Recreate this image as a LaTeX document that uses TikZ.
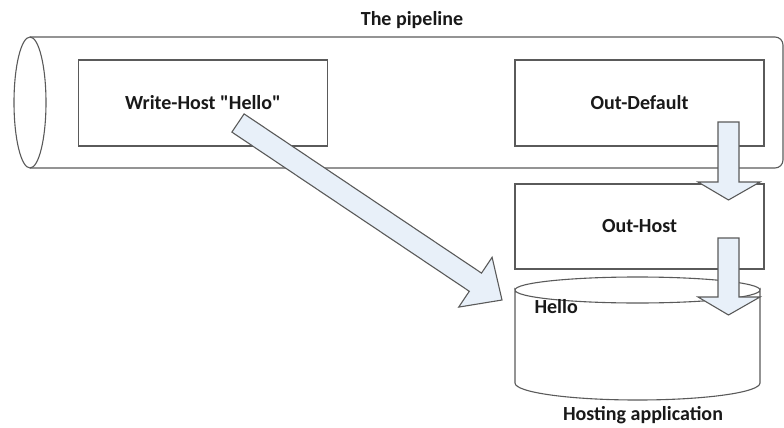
\documentclass[tikz,border=0pt]{standalone}
\usepackage{fontspec}
\setmainfont{Carlito}[Ligatures=TeXOff]
\definecolor{arrowfill}{HTML}{E8F0F9}
\definecolor{edge}{HTML}{5A5A5A}
\begin{document}
\begin{tikzpicture}[x=1pt,y=-1pt,
  line/.style={draw=edge, line width=1.1pt},
  box/.style={line, fill=white, minimum width=249pt, minimum height=86pt, inner sep=0pt},
  lbl/.style={font=\bfseries\fontsize{20}{23}\selectfont, text=black!90},
  blockarrow/.style={line, fill=arrowfill, line join=miter}]
\useasboundingbox (0,0) rectangle (784,428);
% pipe
\draw[line, rounded corners=8pt] (30,37) -- (783,37) -- (783,168) -- (30,168);
\draw[line] (30,102.5) ellipse [x radius=16, y radius=65.5];
\node[lbl] (title) at (412,20) {The pipeline};
% boxes
\node[box, lbl] (wh) at (203,103) {Write-Host "Hello"};
\node[box, lbl] (od) at (639.5,103) {Out-Default};
\node[box, lbl, minimum height=85pt] (oh) at (639.5,226.5) {Out-Host};
% cylinder
\draw[line, fill=white] (515,290) arc[start angle=180, end angle=0, x radius=122.5, y radius=13]
   -- (760,383) arc[start angle=0, end angle=180, x radius=122.5, y radius=17] -- cycle;
\draw[line] (515,290) arc[start angle=180, end angle=360, x radius=122.5, y radius=13];
\node[lbl, anchor=west] (hello) at (531,307) {Hello};
\node[lbl] (host) at (643,415) {Hosting application};
% block arrows
\draw[blockarrow] (718,122) -- (739,122) -- (739,182) -- (760,182) -- (728.5,200) -- (698,182) -- (718,182) -- cycle;
\draw[blockarrow] (718,238) -- (739,238) -- (739,297) -- (760,297) -- (728.5,315) -- (698,297) -- (718,297) -- cycle;
\draw[blockarrow] (231.9,132.1) -- (244.1,113.9) -- (481.5,273.1) -- (492.1,257.3) -- (502,300) -- (458.7,307.1) -- (469.3,291.3) -- cycle;
\end{tikzpicture}
\end{document}
